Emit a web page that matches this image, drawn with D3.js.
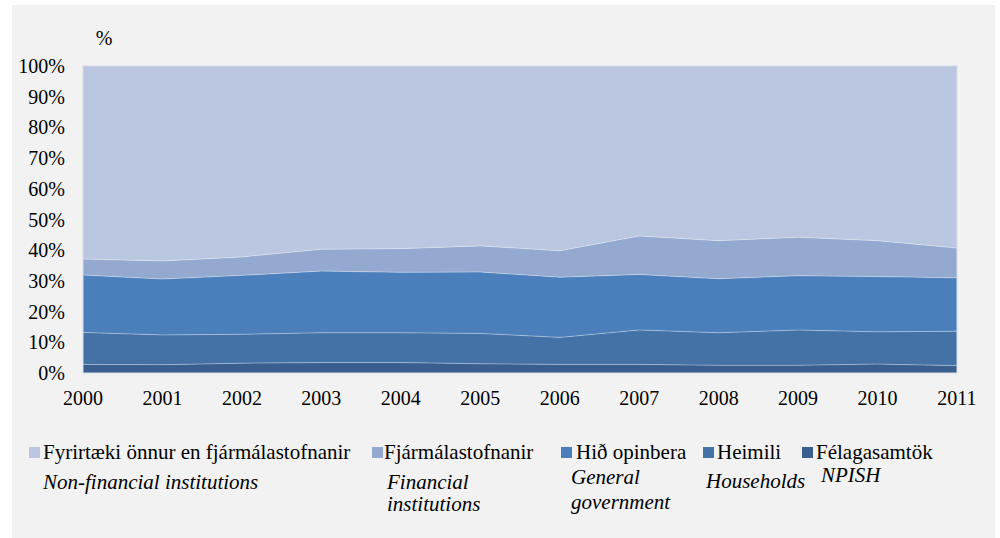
<!DOCTYPE html>
<html><head><meta charset="utf-8">
<script src="https://cdn.jsdelivr.net/npm/d3@7"></script>
</head>
<body style="margin:0;padding:0;background:#fff;"><svg id="c" width="1000" height="538" style="display:block;font-family:'Liberation Serif',serif;"></svg>
<script>
const years = [2000,2001,2002,2003,2004,2005,2006,2007,2008,2009,2010,2011];
const yTicks = [0,10,20,30,40,50,60,70,80,90,100];
// shares in % (bottom to top)
const npish   = [2.8,2.7,3.2,3.4,3.4,3.0,2.8,2.8,2.5,2.5,2.9,2.4];
const households = [10.4,9.7,9.4,9.7,9.7,9.9,8.8,11.2,10.6,11.5,10.5,11.2];
const government = [18.7,18.2,19.2,20.1,19.7,20.0,19.6,18.1,17.6,17.7,18.0,17.4];
const financial  = [5.2,5.9,6.0,7.1,7.7,8.5,8.6,12.5,12.4,12.5,11.7,9.7];
const nonFinancial = [62.9,63.5,62.2,59.7,59.5,58.6,60.2,55.4,56.9,55.8,56.9,59.3];
const seriesNames = ["Félagasamtök","Heimili","Hið opinbera","Fjármálastofnanir","Fyrirtæki önnur en fjármálastofnanir"];
const seriesEnglish = ["NPISH","Households","General government","Financial institutions","Non-financial institutions"];
const yLabel = "%";

const colors = ["#3A5E8E","#4472A6","#4B7FBB","#94A9D0","#BBC7E0"];
const keys = ["npish","households","government","financial","nonFinancial"];
const rows = years.map((y,i)=>({year:y,npish:npish[i],households:households[i],government:government[i],financial:financial[i],nonFinancial:nonFinancial[i]}));

const svg = d3.select("#c");
svg.append("rect").attr("x",12).attr("y",5).attr("width",983).attr("height",533).attr("fill","#F2F2F2");

const x = d3.scaleLinear().domain([2000,2011]).range([83,957]);
const y = d3.scaleLinear().domain([0,100]).range([373,66]);

const stack = d3.stack().keys(keys).offset(d3.stackOffsetExpand);
const layers = stack(rows);

const area = d3.area().x(d=>x(d.data.year)).y0(d=>y(d[0]*100)).y1(d=>y(d[1]*100));
const topLine = d3.line().x(d=>x(d.data.year)).y(d=>y(d[1]*100));

svg.append("g").selectAll("path").data(layers).join("path")
  .attr("d",area).attr("fill",(d,i)=>colors[i]);
svg.append("g").selectAll("path").data(layers.slice(0,4)).join("path")
  .attr("d",topLine).attr("fill","none").attr("stroke","rgba(255,255,255,0.35)").attr("stroke-width",1);

svg.append("rect").attr("x",83).attr("y",66).attr("width",874).attr("height",307)
  .attr("fill","none").attr("stroke","#D5DCE8").attr("stroke-width",1);

function T(sel, size){
  sel.attr("fill","#000").style("font-family","'Liberation Serif', serif").style("font-size",(size||20)+"px");
  return sel;
}

// y axis labels
T(svg.append("g").selectAll("text").data(yTicks).join("text")
  .attr("x",65).attr("y",d=>y(d)).attr("dy","0.35em").attr("text-anchor","end")
  .text(d=>d+"%"));
T(svg.append("text").attr("x",104).attr("y",45).attr("text-anchor","middle").text(yLabel));

// x axis labels
T(svg.append("g").selectAll("text").data(years).join("text")
  .attr("x",d=>x(d)).attr("y",405).attr("text-anchor","middle").text(d=>d));

// legend (order as in reference: top layer first)
const legend = [
  {i:4, mx:29, tx:43, ex:43, lines:["Non-financial institutions"], ey:489, gap:0},
  {i:3, mx:372, tx:384, ex:387, lines:["Financial","institutions"], ey:489, gap:22},
  {i:2, mx:561, tx:576, ex:571, lines:["General","government"], ey:484, gap:25},
  {i:1, mx:703, tx:717, ex:706, lines:["Households"], ey:488, gap:0},
  {i:0, mx:802, tx:816, ex:821, lines:["NPISH"], ey:482, gap:0}
];
const lg = svg.append("g");
legend.forEach(l=>{
  lg.append("rect").attr("x",l.mx).attr("y",447).attr("width",11).attr("height",11).attr("fill",colors[l.i]);
  T(lg.append("text").attr("x",l.tx).attr("y",459).text(seriesNames[l.i]), 21);
  const t = T(lg.append("text").attr("x",l.ex).attr("y",l.ey).style("font-style","italic"), 21);
  l.lines.forEach((s,k)=>t.append("tspan").attr("x",l.ex).attr("dy",k===0?0:l.gap).text(s));
});
</script></body></html>
